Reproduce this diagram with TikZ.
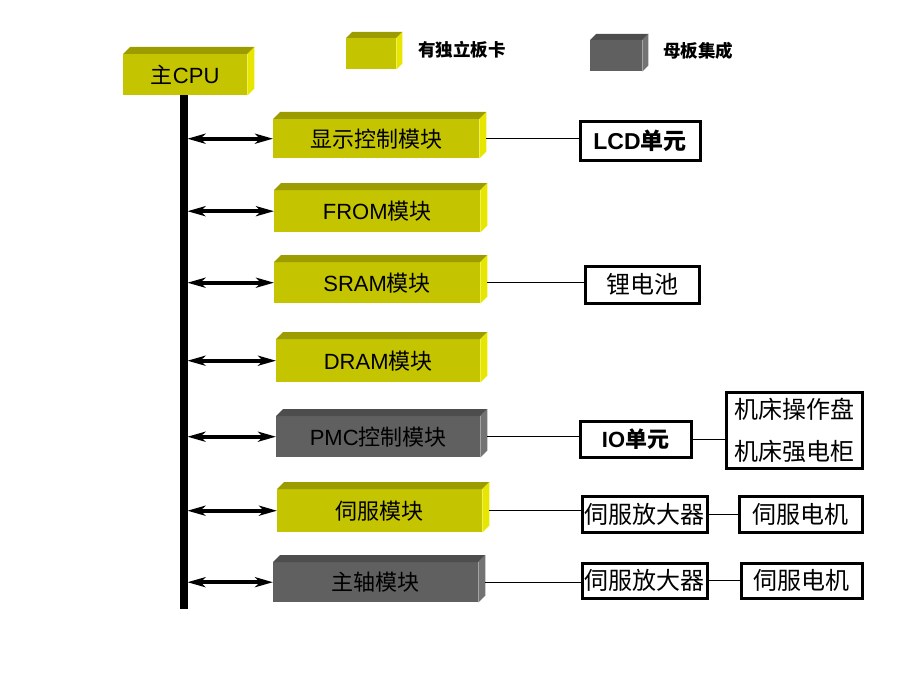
\documentclass[tikz,border=0pt]{standalone}
\usepackage{fontspec}
\setmainfont{Liberation Sans}
\newfontfamily\cjk{Noto Sans CJK SC}
\usetikzlibrary{arrows.meta}
\definecolor{yfront}{HTML}{C4C400}
\definecolor{ytop}{HTML}{9C9C00}
\definecolor{yside}{HTML}{E6E600}
\definecolor{gfront}{HTML}{606060}
\definecolor{gtop}{HTML}{4D4D4D}
\definecolor{gside}{HTML}{737373}
\tikzset{
  modbox/.style={anchor=north west, inner sep=0pt, font=\fontsize{22}{26}\selectfont},
  wbox/.style={draw, line width=3pt, fill=white, inner sep=0pt, anchor=north west, font=\fontsize{24}{28}\selectfont},
  legtext/.style={anchor=west, inner sep=0pt, font=\fontsize{17.5}{20}\selectfont\bfseries},
  bi/.style={line width=4pt, {Stealth[length=18pt,width=10pt,inset=5pt]}-{Stealth[length=18pt,width=10pt,inset=5pt]}, shorten <=-1pt},
  conn/.style={line width=1pt}
}
\newcommand\cubebox[8]{%
  \node[modbox, fill=#6front, minimum width=#4pt, minimum height=#5pt] (#1) at (#2,#3) {#8};
  \fill[#6top] (#1.north west) -- ++(#7,-#7) -- ([shift={(#7,-#7)}]#1.north east) -- (#1.north east) -- cycle;
  \fill[#6side] (#1.north east) -- ++(#7,-#7) -- ([shift={(#7,-#7)}]#1.south east) -- (#1.south east) -- cycle;
}
\begin{document}
\begin{tikzpicture}[x=1pt,y=-1pt]
\useasboundingbox (0,0) rectangle (920,690);
% legend
\cubebox{legy}{346}{38}{50}{31}{y}{6}{}
\node[legtext] (legyt) at (418,50) {\cjk 有独立板卡};
\cubebox{legg}{590}{40}{52}{31}{g}{6}{}
\node[legtext] (leggt) at (663,51) {\cjk 母板集成};
% CPU
\cubebox{cpu}{123}{54}{124}{41}{y}{7}{{\cjk 主}CPU}
% bus
\node[fill=black, minimum width=8pt, minimum height=514pt, anchor=north west, inner sep=0pt] (bus) at (180,95) {};
% modules
\cubebox{m1}{273}{119}{206}{39}{y}{7}{\cjk 显示控制模块}
\cubebox{m2}{274}{190}{206}{42}{y}{7}{FROM{\cjk 模块}}
\cubebox{m3}{274}{262}{206}{41}{y}{7}{SRAM{\cjk 模块}}
\cubebox{m4}{276}{339}{204}{43}{y}{7}{DRAM{\cjk 模块}}
\cubebox{m5}{276}{416}{204}{41}{g}{7}{PMC{\cjk 控制模块}}
\cubebox{m6}{277}{489}{205}{43}{y}{7}{\cjk 伺服模块}
\cubebox{m7}{273}{562}{205}{40}{g}{7}{\cjk 主轴模块}
% arrows
\foreach \m in {m1,m2,m3,m4,m5,m6,m7}{
  \draw[bi] (bus.east |- \m.west) -- (\m.west);
}
% right boxes
\node[wbox, font=\fontsize{23}{26}\selectfont\bfseries, minimum width=120pt, minimum height=38pt] (lcd) at (578.5,120.5) {LCD{\cjk 单元}};
\node[wbox, minimum width=114pt, minimum height=37pt] (bat) at (583.5,264.5) {\cjk 锂电池};
\node[wbox, font=\fontsize{22}{26}\selectfont\bfseries, minimum width=111pt, minimum height=36pt] (io) at (578.5,419.5) {IO{\cjk 单元}};
\node[wbox, minimum width=136pt, minimum height=76pt, align=center, font=\fontsize{24}{42}\selectfont] (mach) at (724.5,390.5) {\cjk 机床操作盘\\\cjk 机床强电柜};
\node[wbox, minimum width=125pt, minimum height=36pt] (amp1) at (580.5,494.5) {\cjk 伺服放大器};
\node[wbox, minimum width=123pt, minimum height=36pt] (mot1) at (737.5,494.5) {\cjk 伺服电机};
\node[wbox, minimum width=125pt, minimum height=35pt] (amp2) at (580.5,561.5) {\cjk 伺服放大器};
\node[wbox, minimum width=121pt, minimum height=35pt] (mot2) at (739.5,561.5) {\cjk 伺服电机};
% connectors
\draw[conn] ([xshift=7pt]m1.east) -- (m1.east -| lcd.west);
\draw[conn] ([xshift=7pt]m3.east) -- (m3.east -| bat.west);
\draw[conn] ([xshift=7pt]m5.east) -- (m5.east -| io.west);
\draw[conn] (io.east) -- (io.east -| mach.west);
\draw[conn] ([xshift=7pt]m6.east) -- (m6.east -| amp1.west);
\draw[conn] (amp1.east) -- (mot1.west);
\draw[conn] ([xshift=7pt]m7.east) -- (m7.east -| amp2.west);
\draw[conn] (amp2.east) -- (mot2.west);
\end{tikzpicture}
\end{document}
